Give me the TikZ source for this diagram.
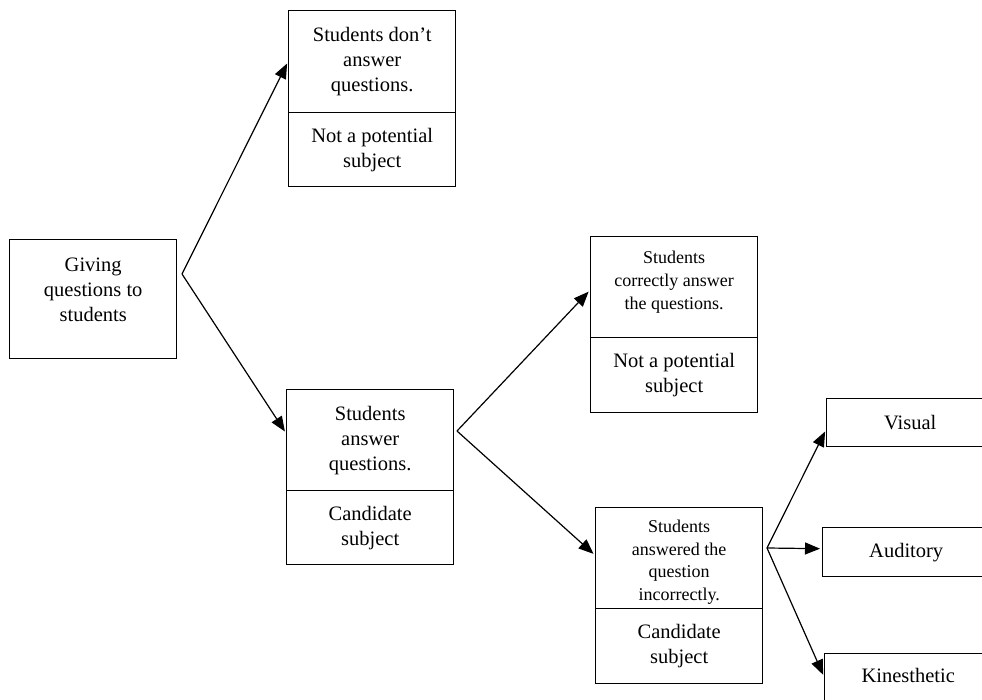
\documentclass[tikz,border=0pt]{standalone}
\usepackage{fontspec}
\setmainfont{Liberation Serif}
\usetikzlibrary{arrows.meta,calc}
\tikzset{
  box/.style={draw, line width=1.4pt, minimum width=167pt, inner sep=0pt, anchor=north west},
  big/.style={font=\fontsize{20.5}{25}\selectfont, align=center, inner sep=0pt},
  small/.style={font=\fontsize{18}{22.7}\selectfont, align=center, inner sep=0pt},
  arr/.style={line width=1.2pt, shorten >=2pt, -{Triangle[length=15pt,width=12pt]}}
}
\begin{document}
\begin{tikzpicture}[x=1pt,y=-1pt]
\useasboundingbox (0,0) rectangle (982,700);
\clip (0,0) rectangle (982,700);
% A
\node[box, minimum height=119pt] (A) at (9,239) {};
\node[big] (At) at ($(A.center)+(0,-9)$) {Giving\\questions to\\students};
% B
\node[box, minimum height=102pt] (Bt) at (288,10) {};
\node[big] (Btt) at (Bt.center) {Students don’t\\answer\\questions.};
\node[box, minimum height=74pt] (Bb) at (288,112) {};
\node[big] (Bbt) at (Bb.center) {Not a potential\\subject};
% C
\node[box, minimum height=101pt] (Ct) at (286,389) {};
\node[big] (Ctt) at (Ct.center) {Students\\answer\\questions.};
\node[box, minimum height=74pt] (Cb) at (286,490) {};
\node[big] (Cbt) at (Cb.center) {Candidate\\subject};
% D
\node[box, minimum height=101pt] (Dt) at (590,236) {};
\node[small] (Dtt) at ($(Dt.center)+(0,-5)$) {Students\\correctly answer\\the questions.};
\node[box, minimum height=75pt] (Db) at (590,337) {};
\node[big] (Dbt) at (Db.center) {Not a potential\\subject};
% E
\node[box, minimum height=101pt] (Et) at (595,507) {};
\node[small] (Ett) at ($(Et.center)+(0,4)$) {Students\\answered the\\question\\incorrectly.};
\node[box, minimum height=75pt] (Eb) at (595,608) {};
\node[big] (Ebt) at (Eb.center) {Candidate\\subject};
% right boxes
\node[box, minimum height=48pt] (V) at (826,398) {};
\node[big] (Vt) at (V.center) {Visual};
\node[box, minimum height=49pt] (Au) at (822,527) {};
\node[big] (Aut) at (Au.center) {Auditory};
\node[box, minimum height=48pt] (K) at (824,653) {};
\node[big] (Kt) at ($(K.center)+(0,-2)$) {Kinesthetic};
% forks
\coordinate (fA) at (182,274);
\coordinate (fC) at (457,431);
\coordinate (fE) at (767,548);
\draw[arr] (fA) -- (Bt.west);
\draw[arr] (fA) -- ($(Ct.west)+(0,-7)$);
\draw[arr] (fC) -- ($(Dt.west)+(0,3)$);
\draw[arr] (fC) -- ($(Et.west)+(0,-3)$);
\draw[arr] (fE) -- ($(V.west)+(0,7)$);
\draw[arr] (fE) -- ($(Au.west)+(0,-3.5)$);
\draw[arr] (fE) -- ($(K.west)+(0,-1)$);
\end{tikzpicture}
\end{document}
